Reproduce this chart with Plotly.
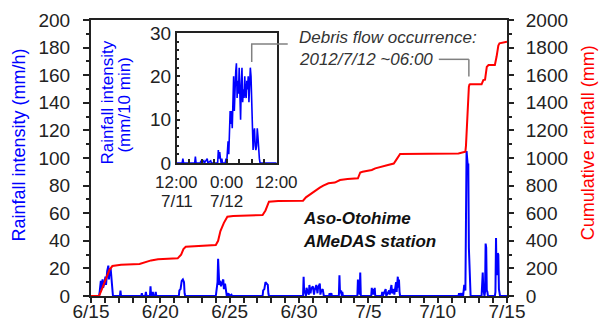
import plotly.graph_objects as go

# ---------------- data ----------------
# hourly rainfall intensity (mm/h), Aso-Otohime AMeDAS
rain_time = [
    "2012-06-15 00:00", "2012-06-15 14:00", "2012-06-15 15:00", "2012-06-15 17:00", "2012-06-15 18:00",
    "2012-06-15 20:00", "2012-06-15 21:00", "2012-06-15 23:00", "2012-06-16 01:00", "2012-06-16 02:00",
    "2012-06-16 04:00", "2012-06-16 06:00", "2012-06-16 07:00", "2012-06-16 08:00", "2012-06-16 10:00",
    "2012-06-16 11:00", "2012-06-16 12:00", "2012-06-16 13:00", "2012-06-16 14:00",
    "2012-06-17 02:00", "2012-06-17 03:00", "2012-06-17 04:00",
    "2012-06-18 15:00", "2012-06-18 16:00", "2012-06-18 17:00",
    "2012-06-18 22:00", "2012-06-18 23:00", "2012-06-19 00:00",
    "2012-06-19 06:00", "2012-06-19 07:00", "2012-06-19 08:00",
    "2012-06-19 10:00", "2012-06-19 11:00", "2012-06-19 12:00",
    "2012-06-19 15:00", "2012-06-19 16:00", "2012-06-19 17:00",
    "2012-06-21 08:00", "2012-06-21 09:00", "2012-06-21 11:00", "2012-06-21 13:00", "2012-06-21 15:00",
    "2012-06-21 17:00", "2012-06-21 18:00", "2012-06-21 19:00",
    "2012-06-24 00:00", "2012-06-24 01:00", "2012-06-24 03:00", "2012-06-24 04:00", "2012-06-24 05:00",
    "2012-06-24 06:00", "2012-06-24 07:00", "2012-06-24 09:00", "2012-06-24 11:00", "2012-06-24 13:00",
    "2012-06-24 14:00", "2012-06-24 16:00", "2012-06-24 18:00", "2012-06-24 19:00", "2012-06-24 22:00",
    "2012-06-24 23:00", "2012-06-25 03:00", "2012-06-25 04:00",
    "2012-06-27 09:00", "2012-06-27 10:00", "2012-06-27 12:00", "2012-06-27 14:00", "2012-06-27 16:00",
    "2012-06-27 18:00", "2012-06-27 19:00", "2012-06-27 20:00",
    "2012-06-30 07:00", "2012-06-30 08:00", "2012-06-30 09:00", "2012-06-30 10:00", "2012-06-30 12:00",
    "2012-06-30 13:00", "2012-06-30 15:00", "2012-06-30 17:00", "2012-06-30 18:00", "2012-06-30 20:00",
    "2012-06-30 21:00", "2012-07-01 00:00", "2012-07-01 02:00", "2012-07-01 03:00", "2012-07-01 06:00",
    "2012-07-01 08:00", "2012-07-01 09:00", "2012-07-01 12:00", "2012-07-01 13:00", "2012-07-01 14:00",
    "2012-07-01 17:00", "2012-07-01 19:00",
    "2012-07-02 04:00", "2012-07-02 05:00", "2012-07-02 06:00", "2012-07-02 08:00", "2012-07-02 09:00",
    "2012-07-02 21:00", "2012-07-02 22:00", "2012-07-02 23:00", "2012-07-03 01:00", "2012-07-03 02:00",
    "2012-07-03 03:00", "2012-07-03 04:00",
    "2012-07-04 05:00", "2012-07-04 06:00", "2012-07-04 07:00", "2012-07-04 08:00", "2012-07-04 09:00",
    "2012-07-04 10:00", "2012-07-04 11:00",
    "2012-07-05 05:00", "2012-07-05 06:00", "2012-07-05 07:00", "2012-07-05 09:00", "2012-07-05 10:00",
    "2012-07-05 11:00", "2012-07-05 12:00",
    "2012-07-05 23:00", "2012-07-06 00:00", "2012-07-06 01:00", "2012-07-06 06:00", "2012-07-06 07:00",
    "2012-07-06 12:00", "2012-07-06 13:00", "2012-07-06 16:00", "2012-07-06 17:00", "2012-07-06 20:00",
    "2012-07-06 21:00", "2012-07-07 00:00", "2012-07-07 01:00", "2012-07-07 03:00", "2012-07-07 04:00",
    "2012-07-07 05:00", "2012-07-07 06:00", "2012-07-07 07:00",
    "2012-07-11 12:00", "2012-07-11 13:00", "2012-07-11 14:00", "2012-07-11 16:00", "2012-07-11 17:00",
    "2012-07-11 19:00", "2012-07-11 20:00", "2012-07-11 21:00", "2012-07-11 22:00", "2012-07-11 23:00",
    "2012-07-12 00:00", "2012-07-12 01:00", "2012-07-12 02:00", "2012-07-12 03:00", "2012-07-12 04:00",
    "2012-07-12 05:00", "2012-07-12 06:00", "2012-07-12 07:00", "2012-07-12 08:00", "2012-07-12 09:00",
    "2012-07-13 04:00", "2012-07-13 05:00", "2012-07-13 06:00", "2012-07-13 07:00", "2012-07-13 08:00",
    "2012-07-13 09:00", "2012-07-13 10:00", "2012-07-13 11:00", "2012-07-13 12:00", "2012-07-13 13:00",
    "2012-07-13 14:00", "2012-07-13 15:00",
    "2012-07-14 03:00", "2012-07-14 04:00", "2012-07-14 05:00", "2012-07-14 06:00", "2012-07-14 07:00",
    "2012-07-14 08:00", "2012-07-14 09:00", "2012-07-14 10:00", "2012-07-14 11:00", "2012-07-14 12:00",
    "2012-07-15 00:00",
]
rain_mmh = [
    0, 0, 3, 11, 5,
    12, 6, 9, 14, 8,
    18, 22, 12, 18, 20,
    16, 8, 3, 0,
    0, 4, 0,
    0, 2, 0,
    0, 3, 0,
    0, 7, 0,
    0, 3, 0,
    0, 3, 0,
    0, 4, 5, 11, 12,
    10, 2, 0,
    0, 5, 10, 27, 15,
    8, 11, 7, 10, 12,
    5, 9, 3, 0, 2,
    0, 1, 0,
    0, 4, 5, 10, 9,
    8, 2, 0,
    0, 14, 2, 4, 0,
    6, 3, 1, 8, 2,
    5, 7, 1, 4, 8,
    2, 6, 9, 1, 3,
    5, 0,
    0, 2, 0, 2, 0,
    0, 15, 2, 4, 0,
    3, 0,
    0, 12, 2, 4, 1,
    17, 0,
    0, 6, 1, 5, 1,
    6, 0,
    0, 3, 0, 5, 0,
    4, 1, 8, 2, 5,
    1, 10, 3, 14, 6,
    12, 3, 0,
    0, 2, 0, 2, 0,
    2, 0, 3, 8, 5,
    4, 55, 105, 100, 95,
    96, 35, 25, 3, 0,
    0, 6, 17, 5, 2,
    0, 3, 38, 35, 4,
    3, 0,
    0, 3, 42, 15, 20,
    31, 30, 5, 2, 0,
    0,
]

# cumulative rainfall (mm)
cum_time = [
    "2012-06-15 00:00", "2012-06-15 14:00", "2012-06-15 18:00", "2012-06-15 23:00", "2012-06-16 04:00",
    "2012-06-16 08:00", "2012-06-16 13:00", "2012-06-17 00:00", "2012-06-17 04:00", "2012-06-18 12:00",
    "2012-06-19 02:00", "2012-06-19 08:00", "2012-06-19 20:00", "2012-06-21 06:00", "2012-06-21 12:00",
    "2012-06-21 16:00", "2012-06-21 20:00", "2012-06-23 00:00", "2012-06-24 00:00", "2012-06-24 04:00",
    "2012-06-24 08:00", "2012-06-24 14:00", "2012-06-24 20:00", "2012-06-25 06:00", "2012-06-27 09:00",
    "2012-06-27 14:00", "2012-06-27 20:00", "2012-06-28 12:00", "2012-06-30 07:00", "2012-06-30 12:00",
    "2012-06-30 20:00", "2012-07-01 06:00", "2012-07-01 12:00", "2012-07-01 18:00", "2012-07-02 03:00",
    "2012-07-02 14:00", "2012-07-02 23:00", "2012-07-03 12:00", "2012-07-04 06:00", "2012-07-04 10:00",
    "2012-07-04 14:00", "2012-07-05 06:00", "2012-07-05 12:00", "2012-07-06 10:00", "2012-07-06 20:00",
    "2012-07-07 00:00", "2012-07-07 07:00", "2012-07-11 12:00", "2012-07-11 23:00", "2012-07-12 00:00",
    "2012-07-12 01:00", "2012-07-12 02:00", "2012-07-12 03:00", "2012-07-12 04:00", "2012-07-12 05:00",
    "2012-07-12 06:00", "2012-07-12 07:00", "2012-07-12 08:00", "2012-07-13 04:00", "2012-07-13 07:00",
    "2012-07-13 10:00", "2012-07-13 13:00", "2012-07-13 16:00", "2012-07-14 03:00", "2012-07-14 06:00",
    "2012-07-14 09:00", "2012-07-14 11:00", "2012-07-14 20:00", "2012-07-15 00:00",
]
cum_mm = [
    0, 0, 40, 90, 150,
    190, 217, 222, 226, 232,
    249, 258, 266, 273, 300,
    340, 357, 362, 370, 400,
    470, 530, 575, 580, 587,
    620, 683, 688, 691, 715,
    740, 765, 785, 800, 817,
    822, 840, 848, 853, 895,
    900, 913, 925, 949, 960,
    985, 1029, 1033, 1042, 1046,
    1090, 1195, 1293, 1388, 1476,
    1516, 1531, 1534, 1534, 1565,
    1568, 1660, 1674, 1674, 1735,
    1815, 1831, 1843, 1843,
]

# inset: 10-minute rainfall (mm/10 min), 2012/7/11 12:00 - 7/12 12:00
inset_time = [
    "2012-07-11 12:00", "2012-07-11 13:20", "2012-07-11 13:30", "2012-07-11 13:40", "2012-07-11 16:20",
    "2012-07-11 16:30", "2012-07-11 16:40", "2012-07-11 17:40", "2012-07-11 17:50", "2012-07-11 18:00",
    "2012-07-11 18:30", "2012-07-11 18:40", "2012-07-11 19:20", "2012-07-11 19:30", "2012-07-11 20:10",
    "2012-07-11 20:20", "2012-07-11 21:50", "2012-07-11 22:00", "2012-07-11 22:10", "2012-07-11 22:20",
    "2012-07-11 22:30", "2012-07-11 22:40", "2012-07-11 22:50", "2012-07-11 23:00", "2012-07-11 23:40",
    "2012-07-11 23:50", "2012-07-12 00:00", "2012-07-12 00:10", "2012-07-12 00:20", "2012-07-12 00:30",
    "2012-07-12 00:40", "2012-07-12 00:50", "2012-07-12 01:00", "2012-07-12 01:10", "2012-07-12 01:20",
    "2012-07-12 01:30", "2012-07-12 01:40", "2012-07-12 01:50", "2012-07-12 02:00", "2012-07-12 02:10",
    "2012-07-12 02:20", "2012-07-12 02:30", "2012-07-12 02:40", "2012-07-12 02:50", "2012-07-12 03:00",
    "2012-07-12 03:10", "2012-07-12 03:20", "2012-07-12 03:30", "2012-07-12 03:40", "2012-07-12 03:50",
    "2012-07-12 04:00", "2012-07-12 04:10", "2012-07-12 04:20", "2012-07-12 04:30", "2012-07-12 04:40",
    "2012-07-12 04:50", "2012-07-12 05:00", "2012-07-12 05:10", "2012-07-12 05:20", "2012-07-12 05:30",
    "2012-07-12 05:40", "2012-07-12 05:50", "2012-07-12 06:00", "2012-07-12 06:10", "2012-07-12 06:20",
    "2012-07-12 06:30", "2012-07-12 06:40", "2012-07-12 06:50", "2012-07-12 07:00", "2012-07-12 07:10",
    "2012-07-12 07:20", "2012-07-12 07:30", "2012-07-12 07:40", "2012-07-12 07:50", "2012-07-12 08:00",
    "2012-07-12 12:00",
]
inset_mm10 = [
    0, 0, 1, 0, 0,
    1.5, 0, 0, 0.5, 0,
    0.5, 0, 1, 0, 0.5,
    0, 0, 3, 1, 2.5,
    1, 0, 1, 0, 0,
    1, 0, 3, 5, 2,
    6, 12, 9, 12, 8,
    14, 20, 12, 18, 21,
    23, 15, 19, 16, 22,
    13, 10, 18, 22, 14,
    17, 15, 20, 16, 15,
    19, 17, 20, 14, 18,
    22, 20, 12, 5, 3,
    7, 8, 4, 3, 4,
    8, 6, 2, 1, 0,
    0,
]

x_tick_dates = ["2012-06-15", "2012-06-20", "2012-06-25", "2012-06-30", "2012-07-05", "2012-07-10", "2012-07-15"]
x_tick_labels = ["6/15", "6/20", "6/25", "6/30", "7/5", "7/10", "7/15"]
inset_tick_dates = ["2012-07-11 12:00", "2012-07-12 00:00", "2012-07-12 12:00"]
inset_tick_time = ["12:00", "0:00", "12:00"]
inset_tick_day = ["7/11", "7/12", ""]
debris_time = "2012-07-12 06:00"

# ---------------- figure ----------------
FONT = "Liberation Sans, Arial, sans-serif"
TICKC = "#222222"
BLUE = "#0000FF"
RED = "#FF0000"

fig = go.Figure()
fig.add_trace(go.Scatter(x=rain_time, y=rain_mmh, mode="lines", line=dict(color=BLUE, width=2),
                         xaxis="x", yaxis="y", showlegend=False))
fig.add_trace(go.Scatter(x=cum_time, y=cum_mm, mode="lines", line=dict(color=RED, width=2),
                         xaxis="x", yaxis="y2", showlegend=False))
fig.add_trace(go.Scatter(x=inset_time, y=inset_mm10, mode="lines", line=dict(color=BLUE, width=1.6),
                         xaxis="x3", yaxis="y3", showlegend=False))

DAY = 86400000
TFS = 19
axis_common = dict(showgrid=False, zeroline=False, showline=True, linecolor=TICKC, automargin=False,
                   tickcolor=TICKC, tickfont=dict(family=FONT, size=TFS, color=TICKC))

fig.update_layout(
    width=605, height=330,
    margin=dict(l=91, r=98, t=20, b=34, autoexpand=False),
    paper_bgcolor="white", plot_bgcolor="white",
    font=dict(family=FONT, size=17, color=TICKC),
    xaxis=dict(**axis_common, type="date", range=["2012-06-15", "2012-07-15"],
               tickmode="array", tickvals=x_tick_dates, ticktext=x_tick_labels,
               ticks="outside", ticklen=5, tickwidth=1.5, linewidth=2, mirror=True,
               ticklabelstandoff=-8,
               minor=dict(tick0="2012-06-15", dtick=DAY, ticks="outside", ticklen=5,
                          tickcolor=TICKC, tickwidth=1.5),
               anchor="y"),
    yaxis=dict(**axis_common, range=[0, 200], tick0=0, dtick=20, ticks="outside", ticklen=6,
               tickwidth=1.5, linewidth=2, ticklabelstandoff=9,
               minor=dict(dtick=10, ticks="outside", ticklen=3, tickcolor=TICKC, tickwidth=1.5)),
    yaxis2=dict(**axis_common, range=[0, 2000], tick0=0, dtick=200, overlaying="y", side="right",
                ticks="outside", ticklen=5, tickwidth=1.5, linewidth=2, anchor="x", ticklabelstandoff=8,
                minor=dict(dtick=100, ticks="outside", ticklen=3, tickcolor=TICKC, tickwidth=1.5)),
    xaxis3=dict(**axis_common, type="date", domain=[0.2058, 0.4465], anchor="y3",
                range=["2012-07-11 12:00", "2012-07-12 12:00"],
                tickmode="array", tickvals=inset_tick_dates, showticklabels=False,
                ticks="inside", ticklen=4, tickwidth=1.5, linewidth=1.5, mirror=True,
                minor=dict(tick0="2012-07-11 12:00", dtick=3 * 3600000, ticks="inside", ticklen=4,
                           tickcolor=TICKC, tickwidth=1.5)),
    yaxis3=dict(**axis_common, domain=[0.4819, 0.9529], anchor="x3", range=[0, 30], tick0=0, dtick=10,
                ticks="inside", ticklen=4, tickwidth=1.5, linewidth=1.5, mirror=True,
                minor=dict(dtick=2, ticks="inside", ticklen=3, tickcolor=TICKC, tickwidth=1.5)),
)

annos = [
    dict(text="Rainfall intensity (mm/h)", x=-0.172, y=0.547, textangle=-90,
         font=dict(family=FONT, size=18, color=BLUE)),
    dict(text="Cumulative rainfall (mm)", x=1.195, y=0.554, textangle=-90,
         font=dict(family=FONT, size=18, color=RED)),
    dict(text="Rainfall intensity", x=0.0397, y=0.699, textangle=-90,
         font=dict(family=FONT, size=17, color=BLUE)),
    dict(text="(mm/10 min)", x=0.0782, y=0.692, textangle=-90,
         font=dict(family=FONT, size=17, color=BLUE)),
    dict(text="<i>Debris flow occurrence:</i>", x=0.4946, y=0.936, xanchor="left",
         font=dict(family=FONT, size=17, color="#333333")),
    dict(text="<i>2012/7/12 ~06:00</i>", x=0.4946, y=0.857, xanchor="left",
         font=dict(family=FONT, size=17, color="#333333")),
    dict(text="<b><i>Aso-Otohime</i></b>", x=0.5042, y=0.279, xanchor="left",
         font=dict(family=FONT, size=17, color="#111111")),
    dict(text="<b><i>AMeDAS station</i></b>", x=0.5042, y=0.199, xanchor="left",
         font=dict(family=FONT, size=17, color="#111111")),
]
for a in annos:
    a.setdefault("xanchor", "center")
    fig.add_annotation(xref="paper", yref="paper", showarrow=False, yanchor="middle", **a)

# inset x tick labels (two lines)
for t, lab1, lab2 in zip(inset_tick_dates, inset_tick_time, inset_tick_day):
    fig.add_annotation(xref="x3", yref="paper", x=t, y=0.41, text=lab1, showarrow=False,
                       xanchor="center", yanchor="middle", borderpad=0,
                       font=dict(family=FONT, size=17, color=TICKC))
    if lab2:
        fig.add_annotation(xref="x3", yref="paper", x=t, y=0.342, text=lab2, showarrow=False,
                           xanchor="center", yanchor="middle", borderpad=0,
                           font=dict(family=FONT, size=17, color=TICKC))

GRAY = "#808080"
# leader line to main chart
fig.add_shape(type="line", xref="x", yref="y", x0="2012-07-10 02:00", x1=debris_time, y0=171.5, y1=171.5,
              line=dict(color=GRAY, width=1.5))
fig.add_shape(type="line", xref="x", yref="y", x0=debris_time, x1=debris_time, y0=171.5, y1=159,
              line=dict(color=GRAY, width=1.5))
# leader line to inset
fig.add_shape(type="line", xref="x3", yref="paper", x0=debris_time, x1=debris_time, y0=0.8478, y1=0.913,
              line=dict(color=GRAY, width=1.5))
fig.add_shape(type="line", xref="paper", yref="paper", x0=0.3847, x1=0.4729, y0=0.913, y1=0.913,
              line=dict(color=GRAY, width=1.5))

fig.write_html("out.html", config={"displayModeBar": False},
               post_script="document.body.style.margin='0';")
